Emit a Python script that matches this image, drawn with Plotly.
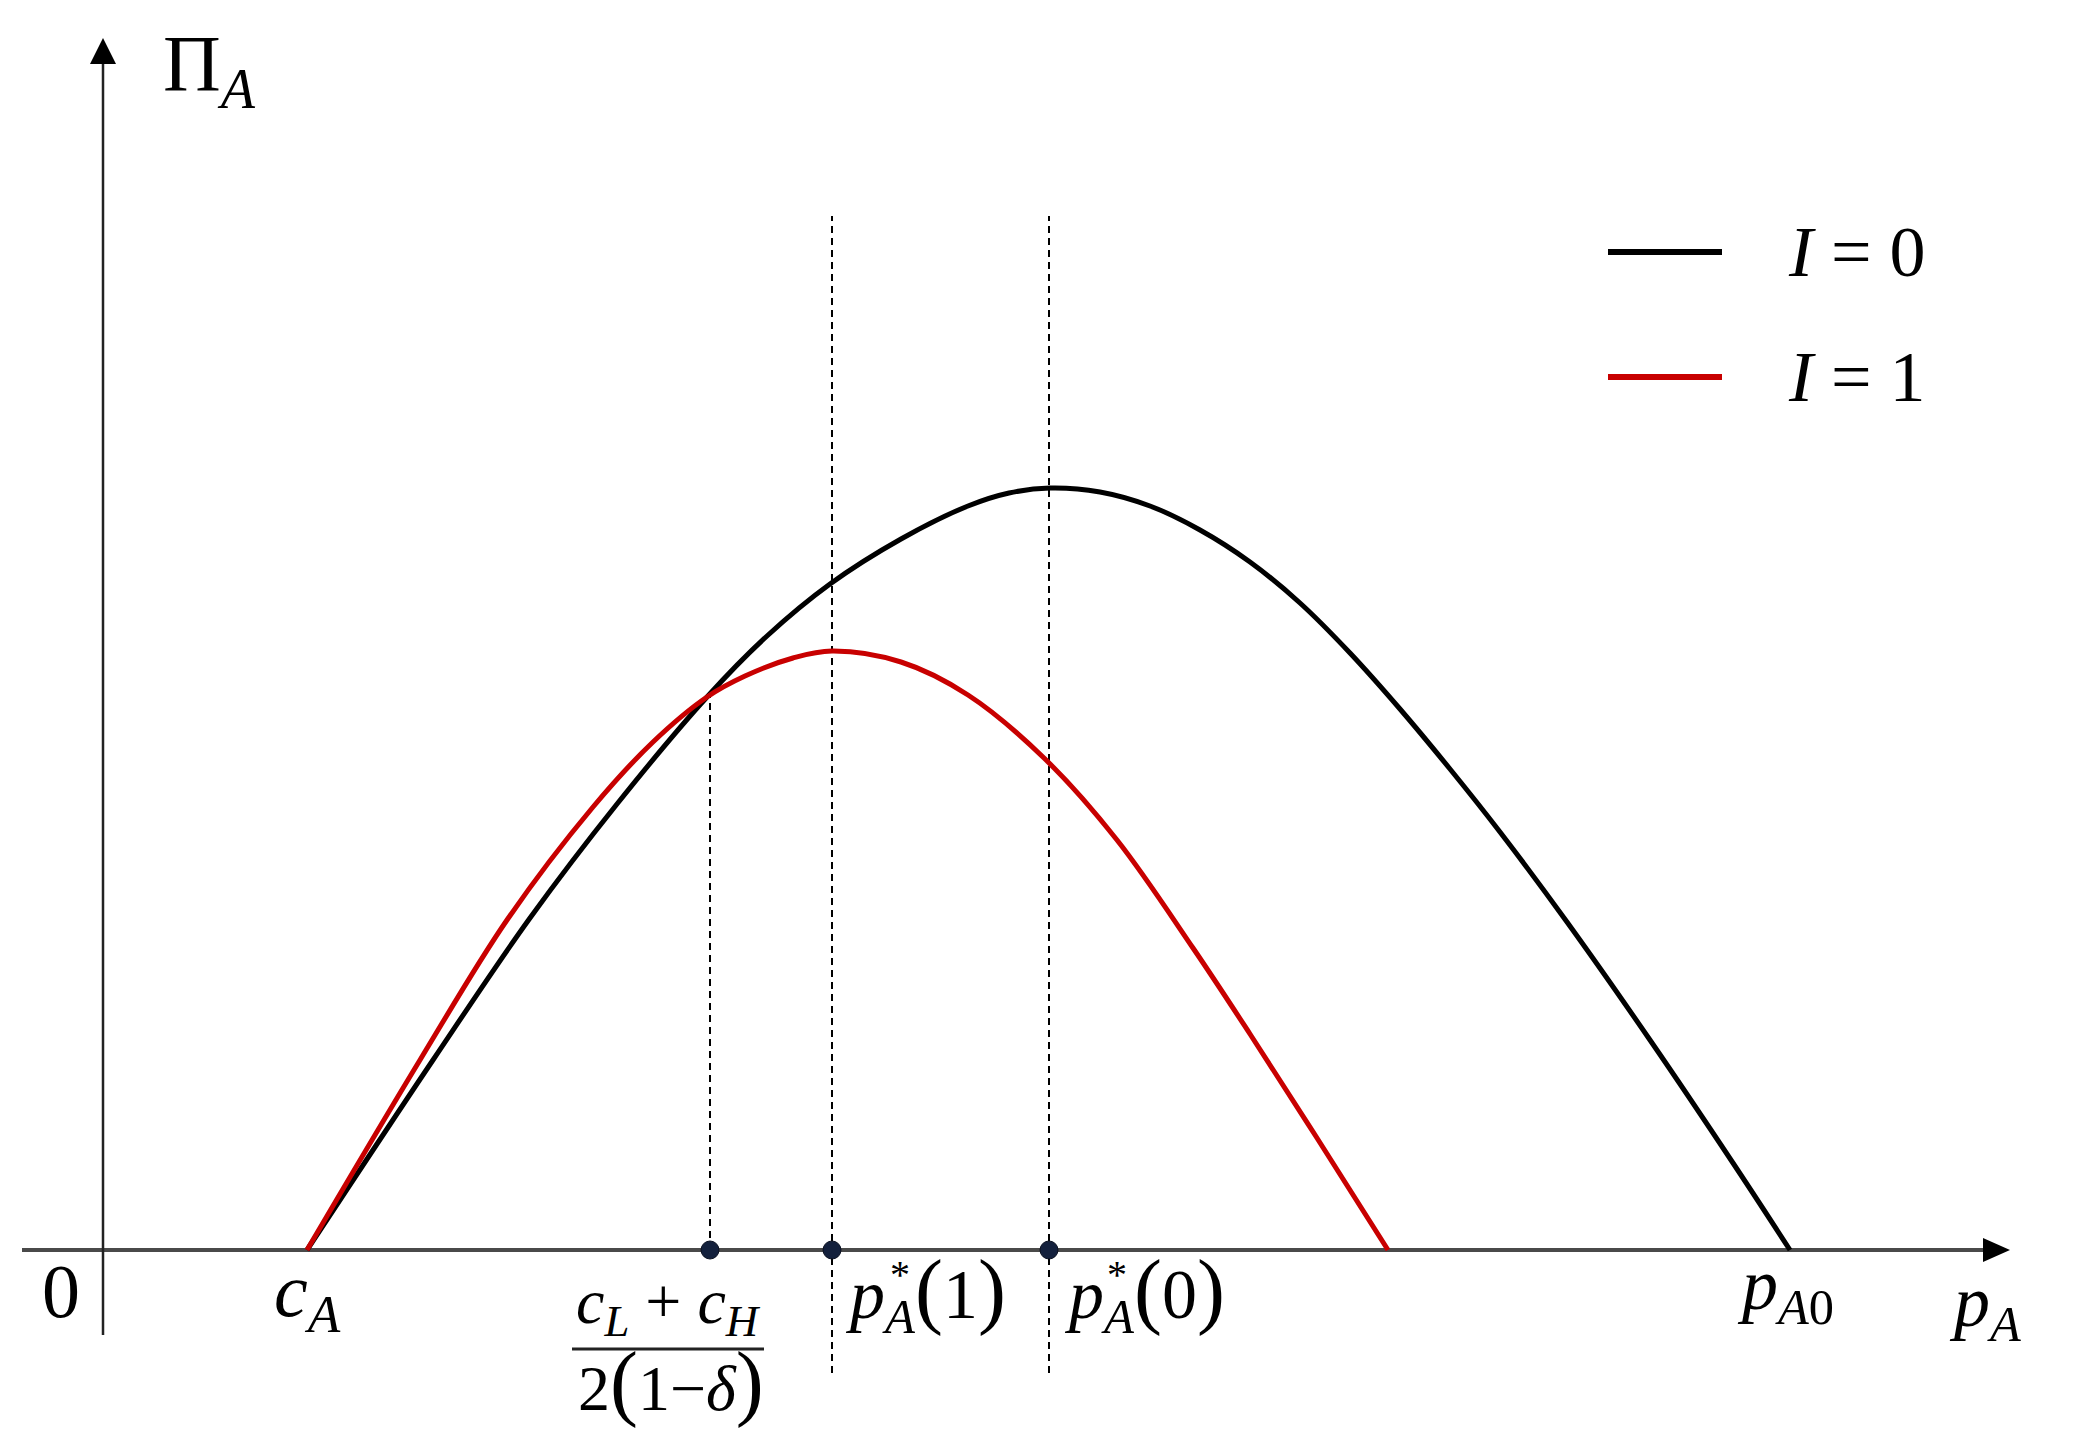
import plotly.graph_objects as go

# ─── Data (units: picture pixels, origin at the axes corner) ────────────────

# I = 0 profit curve
black_x = [204, 330, 427, 514, 604, 664, 727, 798, 865, 906, 947, 997, 1047, 1097, 1147, 1197,
           1247, 1297, 1347, 1397, 1464, 1547, 1630, 1687]
black_y = [0, 190, 332, 446, 553, 614, 666, 711, 744, 757, 762, 758, 744, 720, 688, 647,
           597, 541, 481, 418, 328, 210, 87, 0]

# I = 1 profit curve
red_x = [204, 317, 404, 490, 550, 604, 642, 690, 729, 798, 865, 941, 1014, 1090, 1147, 1214, 1285]
red_y = [0, 190, 330, 443, 508, 553, 574, 592, 599, 588, 555, 492, 410, 302, 216, 112, 0]

# marked prices on the p_A axis and their guide lines
mark_x = [607, 729, 946]
guide_top = [553, 1034, 1034]
guide_bottom = [0, -123, -123]

c_A, p_A0 = 204, 1687

FONT = "Liberation Serif, Times New Roman, serif"
INK = "#000000"
RED = "#c80000"
AXIS = "#4a4a4a"

fig = go.Figure()

# dashed guides
for gx, gt, gb in zip(mark_x, guide_top, guide_bottom):
    fig.add_trace(go.Scatter(
        x=[gx, gx], y=[gb, gt], mode="lines",
        line=dict(color=INK, width=2, dash="7px,5px"),
        hoverinfo="skip", showlegend=False,
    ))

fig.add_trace(go.Scatter(
    x=black_x, y=black_y, mode="lines", name="I = 0",
    line=dict(color=INK, width=5, shape="spline", smoothing=1.0),
    showlegend=False,
))
fig.add_trace(go.Scatter(
    x=red_x, y=red_y, mode="lines", name="I = 1",
    line=dict(color=RED, width=5, shape="spline", smoothing=1.0),
    showlegend=False,
))

fig.add_trace(go.Scatter(
    x=mark_x, y=[0] * len(mark_x), mode="markers",
    marker=dict(color="#13203c", size=18, line=dict(color="#0a1020", width=1)),
    hoverinfo="skip", showlegend=False,
))

# ─── Axes drawn by hand ─────────────────────────────────────────────────────

shapes = [
    dict(type="line", x0=-81, x1=1885, y0=0, y1=0, line=dict(color=AXIS, width=4), layer="below"),
    dict(type="line", x0=0, x1=0, y0=-85, y1=1190, line=dict(color="#222222", width=2.5), layer="below"),
    dict(type="path", path="M 1880 12 L 1907 0 L 1880 -12 Z", fillcolor=INK, line=dict(width=0)),
    dict(type="path", path="M -13 1186 L 0 1212 L 13 1186 Z", fillcolor=INK, line=dict(width=0)),
    # fraction bar
    dict(type="line", x0=469, x1=661, y0=-99, y1=-99, line=dict(color="#222222", width=3)),
    # legend samples
    dict(type="line", x0=1505, x1=1619, y0=998, y1=998, line=dict(color=INK, width=6)),
    dict(type="line", x0=1505, x1=1619, y0=873, y1=873, line=dict(color=RED, width=6)),
]

PAREN = "<span style='font-size:84px'>"


def label(x, y, text, size=72, xanchor="center"):
    fig.add_annotation(
        x=x, y=y, text=text, showarrow=False, xanchor=xanchor, yanchor="middle",
        font=dict(family=FONT, size=size, color=INK),
    )


label(58, 1180, "Π<sub><i>A</i></sub>", size=80, xanchor="left")
label(-42, -41, "0", size=76)
label(c_A, -46, "<i>c<sub>A</sub></i>", size=76)
label(565, -56, "<i>c<sub>L</sub></i> + <i>c<sub>H</sub></i>", size=64)
label(568, -132, "2" + PAREN + "(</span>1−<i>δ</i>" + PAREN + ")</span>", size=64)
label(740, -43, "<i>p<sub>A</sub></i>" + PAREN + "(</span>1" + PAREN + ")</span>", size=70, xanchor="left")
label(959, -43, "<i>p<sub>A</sub></i>" + PAREN + "(</span>0" + PAREN + ")</span>", size=70, xanchor="left")
label(797, -24, "*", size=40)
label(1014, -24, "*", size=40)
label(p_A0 - 5, -40, "<i>p</i><sub><i>A</i>0</sub>", size=72)
label(1882, -57, "<i>p<sub>A</sub></i>", size=72)
label(1683, 998, "<i>I</i> = 0", size=72, xanchor="left")
label(1683, 873, "<i>I</i> = 1", size=72, xanchor="left")

# the page body adds an 8px margin, so the ranges are shifted to compensate
fig.update_layout(
    width=2082, height=1436, autosize=False,
    margin=dict(l=0, r=0, t=0, b=0),
    paper_bgcolor="white", plot_bgcolor="white",
    shapes=shapes,
    xaxis=dict(range=[-95, 1987], visible=False, fixedrange=True),
    yaxis=dict(range=[-194, 1242], visible=False, fixedrange=True),
    showlegend=False,
)

fig.write_html("out.html")
